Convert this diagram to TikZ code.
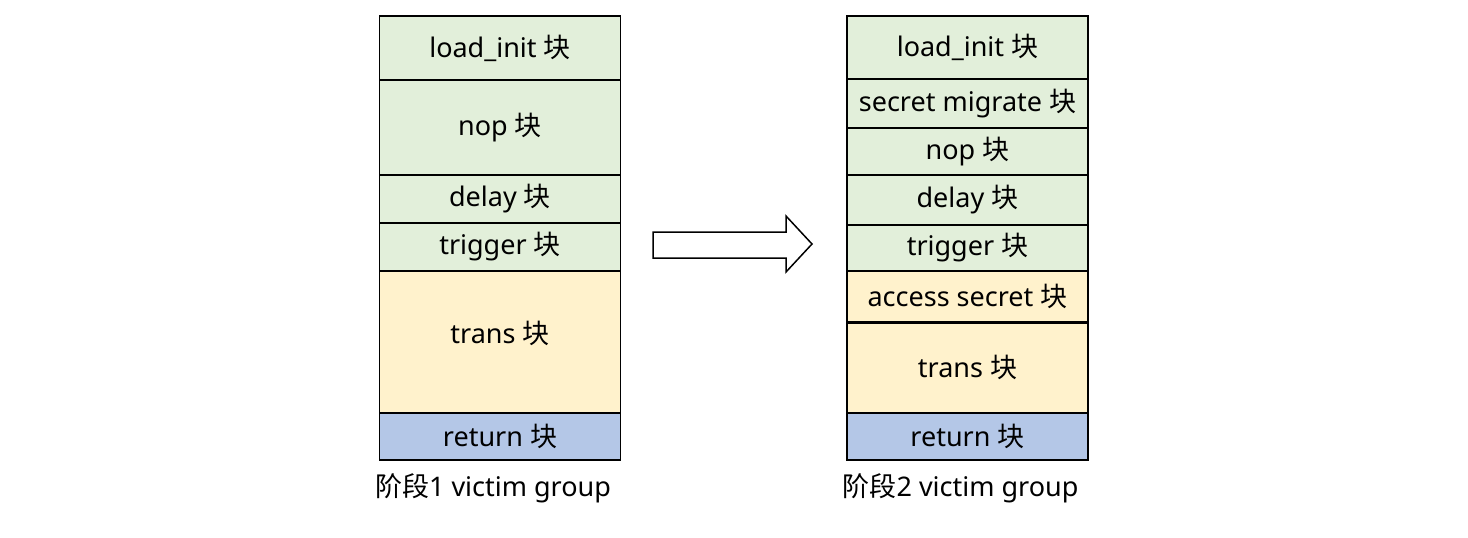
\documentclass[tikz,border=0pt]{standalone}
\usepackage{fontspec}
\setmainfont{Noto Sans}
\newfontfamily\cjk{Noto Sans CJK SC}
\usetikzlibrary{positioning}
\definecolor{blkgreen}{HTML}{E2EFDA}
\definecolor{blkyellow}{HTML}{FFF2CC}
\definecolor{blkblue}{HTML}{B4C7E7}
\def\kuai{{\cjk 块}}
\tikzset{
  blk/.style={draw, line width=1.5pt, outer sep=0pt, inner sep=0pt,
    minimum width=241pt, font=\fontsize{27}{32}\selectfont},
  grnblk/.style={blk, fill=blkgreen},
  ylwblk/.style={blk, fill=blkyellow},
  blublk/.style={blk, fill=blkblue},
  caption/.style={font=\fontsize{27}{32}\selectfont}
}

\begin{document}
\begin{tikzpicture}[x=1pt,y=-1pt]
\useasboundingbox (0,0) rectangle (1468,538);

% stage 1
\node[grnblk, minimum height=64pt, anchor=north] (ainit) at (500,16) {load\_init \kuai};
\node[grnblk, minimum height=95pt, below=0pt of ainit] (anop) {nop \kuai};
\node[grnblk, minimum height=48pt, below=0pt of anop] (adelay) {delay \kuai};
\node[grnblk, minimum height=48pt, below=0pt of adelay] (atrig) {trigger \kuai};
\node[ylwblk, minimum height=142pt, text depth=20pt, below=0pt of atrig] (atrans) {trans \kuai};
\node[blublk, minimum height=47pt, below=0pt of atrans] (aret) {return \kuai};
\draw[line width=2.5pt] (atrig.south west) -- (atrig.south east);
\node[caption] (acap) at (493,488) {{\cjk 阶段}1 victim group};

% stage 2
\node[grnblk, minimum height=63pt, anchor=north] (binit) at (967.5,16) {load\_init \kuai};
\node[grnblk, minimum height=49pt, below=0pt of binit] (bmig) {secret migrate \kuai};
\node[grnblk, minimum height=47pt, below=0pt of bmig] (bnop) {nop \kuai};
\node[grnblk, minimum height=50pt, below=0pt of bnop] (bdelay) {delay \kuai};
\node[grnblk, minimum height=46pt, below=0pt of bdelay] (btrig) {trigger \kuai};
\node[ylwblk, minimum height=51pt, below=0pt of btrig] (bacc) {access secret \kuai};
\node[ylwblk, minimum height=91pt, below=0pt of bacc] (btrans) {trans \kuai};
\node[blublk, minimum height=47pt, below=0pt of btrans] (bret) {return \kuai};
\draw[line width=3pt] (bacc.south west) -- (bacc.south east);
\node[caption] (bcap) at (960.5,488) {{\cjk 阶段}2 victim group};

% block arrow
\draw[line width=1.5pt, fill=white] (653,232) -- (786,232) -- (786,216) -- (812,244)
  -- (786,272) -- (786,258) -- (653,258) -- cycle;
\end{tikzpicture}
\end{document}
